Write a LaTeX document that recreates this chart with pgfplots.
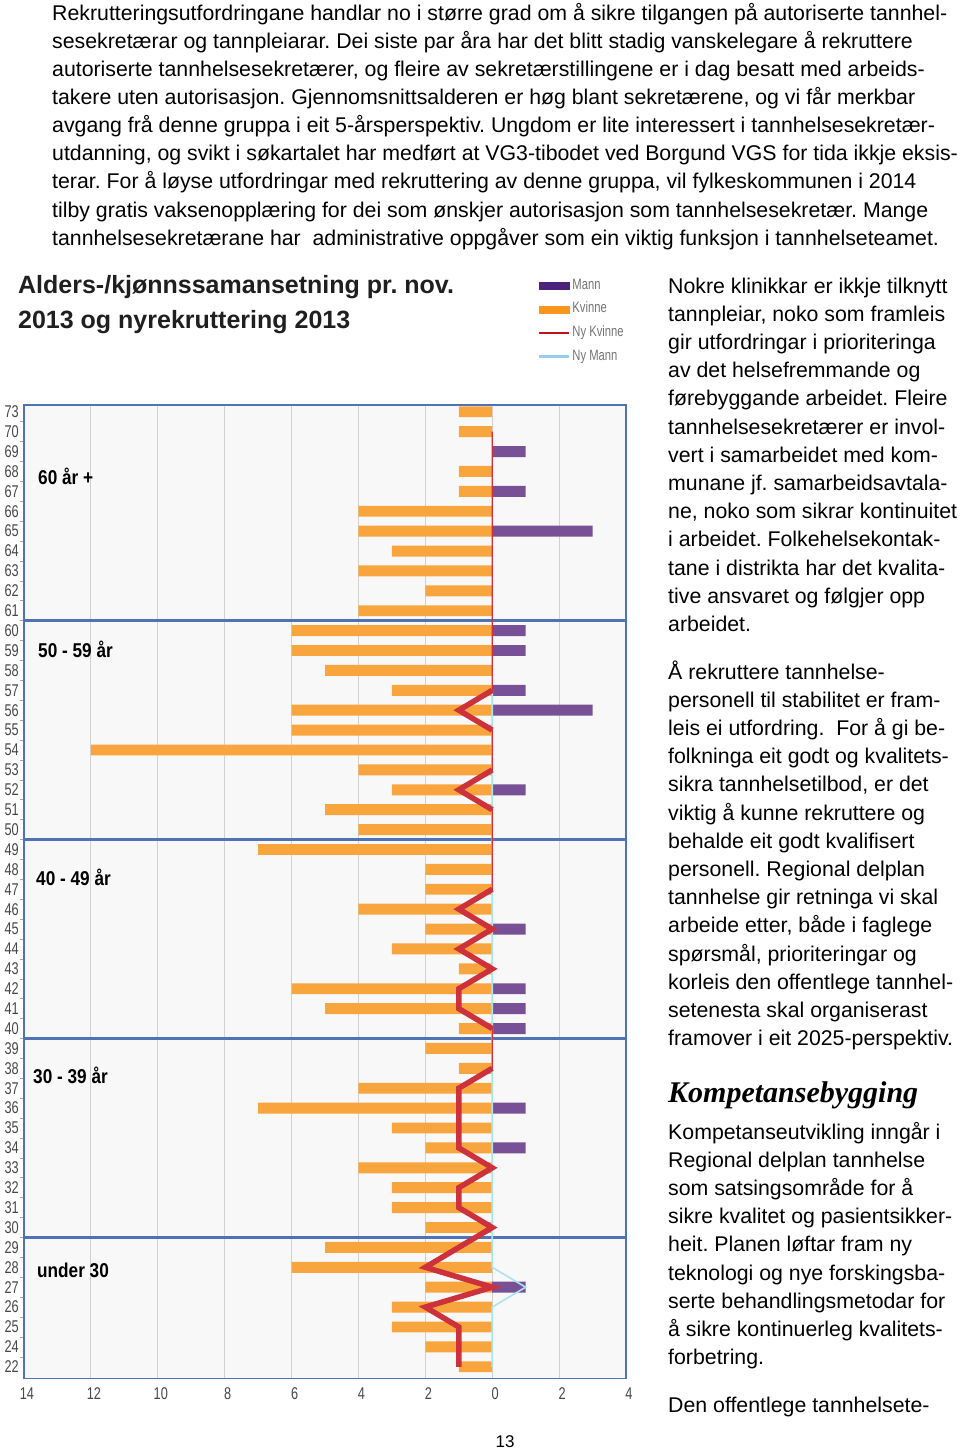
\documentclass[border=0pt]{standalone}
\usepackage{fontspec}
\setmainfont{Liberation Sans}
\newfontfamily\narrow[FakeStretch=0.75]{Liberation Sans}
\newfontfamily\grpfont[FakeStretch=0.86]{Liberation Sans}
\newfontfamily\headfont{Liberation Serif}
\usepackage{pgfplots}
\pgfplotsset{compat=1.18}
\definecolor{kv}{RGB}{249,165,62}
\definecolor{mann}{RGB}{120,80,150}
\definecolor{nyk}{RGB}{205,50,60}
\definecolor{nym}{RGB}{170,228,244}
\definecolor{framec}{RGB}{79,115,180}
\definecolor{plotbg}{RGB}{248,248,248}
\definecolor{legmann}{RGB}{75,35,125}
\definecolor{legkv}{RGB}{250,150,30}
\definecolor{legnyk}{RGB}{190,20,30}
\definecolor{legnym}{RGB}{150,205,240}
\frenchspacing
\newcommand\bodyfont{\fontsize{21.3}{28.2}\selectfont}
\newcommand{\tl}[2]{\node[anchor=base west,inner sep=0pt,font=\bodyfont] at (52pt,-#1pt) {#2};}
\newcommand{\rl}[2]{\node[anchor=base west,inner sep=0pt,font=\bodyfont] at (668pt,-#1pt) {#2};}
\begin{document}
\begin{tikzpicture}
\path[use as bounding box] (0,0) rectangle (960pt,-1451pt);
\begin{axis}[
  at={(24pt,-1378.3pt)}, anchor=south west,
  scale only axis, width=602pt, height=973.3pt,
  xmin=-14, xmax=4, ymin=-0.58, ymax=48.34,
  axis background/.style={fill=plotbg},
  axis line style={draw=framec, line width=1.6pt},
  xtick={-14,-12,...,4}, xticklabels={14,12,10,8,6,4,2,0,2,4},
  ytick={0,...,48},
  yticklabels={22,24,25,26,27,28,29,30,31,32,33,34,35,36,37,38,39,40,41,42,43,44,45,46,47,48,49,50,51,52,53,54,55,56,57,58,59,60,61,62,63,64,65,66,67,68,69,70,73},
  minor ytick={0.5,1.5,...,47.5},
  major tick length=0pt, minor tick length=4pt,
  tick align=outside, ytick pos=left, xtick pos=bottom,
  tick style={draw=black!35, line width=0.6pt},
  xmajorgrids, major grid style={draw=black!18, line width=0.9pt},
  extra y ticks={6.5,16.5,26.5,37.5,48.34},
  extra y tick labels={},
  extra y tick style={grid=major, major grid style={draw=framec, line width=2.6pt}},
  ticklabel style={font=\narrow\fontsize{17}{17}\selectfont, text=black!72},
  yticklabel style={inner sep=0pt, xshift=-5pt},
  xticklabel style={inner sep=0pt, yshift=-9pt, xshift=3pt},
  legend cell align=left,
  legend style={at={(axis description cs:0.8538,1.1294)}, anchor=north west,
    draw=none, fill=none, inner sep=0pt, outer sep=0pt,
    row sep=10.7pt, column sep=2pt,
    nodes={inner sep=0pt, text height=10pt, text depth=3pt,
      font=\narrow\fontsize{15}{15}\selectfont, text=black!55}},
]
% Kvinne
\addplot[xbar, bar width=0.55, fill=kv, draw=none, forget plot] coordinates {
(-1,48) (-1,47) (-1,45) (-1,44) (-4,43) (-4,42) (-3,41) (-4,40) (-2,39) (-4,38)
(-6,37) (-6,36) (-5,35) (-3,34) (-6,33) (-6,32) (-12,31) (-4,30) (-3,29) (-5,28) (-4,27)
(-7,26) (-2,25) (-2,24) (-4,23) (-2,22) (-3,21) (-1,20) (-6,19) (-5,18) (-1,17)
(-2,16) (-1,15) (-4,14) (-7,13) (-3,12) (-2,11) (-4,10) (-3,9) (-3,8) (-2,7)
(-5,6) (-6,5) (-2,4) (-3,3) (-3,2) (-2,1) (-1,0)};
% Mann
\addplot[xbar, bar width=0.55, fill=mann, draw=none, forget plot] coordinates {
(1,46) (1,44) (3,42) (1,37) (1,36) (1,34) (3,33) (1,29) (1,22) (1,19) (1,18) (1,17) (1,13) (1,11) (1,4)};
% Ny Mann
\addplot[color=nym, line width=1.6pt, forget plot] coordinates {
(0,34) (0,33) (0,32) (0,31) (0,30) (0,29) (0,28) (0,27) (0,26) (0,25) (0,24) (0,23) (0,22) (0,21) (0,20) (0,19) (0,18) (0,17) (0,16) (0,15) (0,14) (0,13) (0,12) (0,11) (0,10) (0,9) (0,8) (0,7) (0,6) (0,5) (1,4) (0,3) (0,2) (0,1) (0,0)};
% Ny Kvinne (thin)
\addplot[color=nyk, line width=1.4pt, forget plot] coordinates {
(0,47) (0,46) (0,45) (0,44) (0,43) (0,42) (0,41) (0,40) (0,39) (0,38) (0,37) (0,36) (0,35) (0,34) (-1,33) (0,32) (0,31) (0,30) (-1,29) (0,28) (0,27) (0,26) (0,25) (0,24) (-1,23) (0,22) (-1,21) (0,20) (-1,19) (-1,18) (0,17) (0,16) (0,15) (-1,14) (-1,13) (-1,12) (-1,11) (0,10) (-1,9) (-1,8) (0,7) (-1,6) (-2,5) (0,4) (-2,3) (-1,2) (-1,1) (-1,0)};
% Ny Kvinne (thick segments)
\addplot[color=nyk, line width=5.5pt, unbounded coords=jump, forget plot] coordinates {
(0,34) (-1,33) (0,32) (nan,31) (0,30) (-1,29) (0,28) (nan,27) (nan,26) (nan,25) (0,24) (-1,23) (0,22) (-1,21) (0,20) (-1,19) (-1,18) (0,17) (nan,16) (0,15) (-1,14) (-1,13) (-1,12) (-1,11) (0,10) (-1,9) (-1,8) (0,7) (-1,6) (-2,5) (0,4) (-2,3) (-1,2) (-1,1) (-1,0)};
\addlegendimage{legend image code/.code={\fill[legmann] (0pt,-3.5pt) rectangle (30pt,3.5pt);}}
\addlegendentry{Mann}
\addlegendimage{legend image code/.code={\fill[legkv] (0pt,-3.5pt) rectangle (30pt,3.5pt);}}
\addlegendentry{Kvinne}
\addlegendimage{legend image code/.code={\draw[legnyk, line width=2.4pt] (0pt,0pt) -- (30pt,0pt);}}
\addlegendentry{Ny Kvinne}
\addlegendimage{legend image code/.code={\draw[legnym, line width=2.4pt] (0pt,0pt) -- (30pt,0pt);}}
\addlegendentry{Ny Mann}
\end{axis}
% chart title
\node[anchor=base west,inner sep=0pt,font=\bfseries\fontsize{25}{25}\selectfont,text=black!88] at (18pt,-293pt) {Alders-/kjønnssamansetning pr. nov.};
\node[anchor=base west,inner sep=0pt,font=\bfseries\fontsize{25}{25}\selectfont,text=black!88] at (18pt,-328pt) {2013 og nyrekruttering 2013};
% group labels
\begin{scope}[every node/.style={anchor=base west,inner sep=0pt,font=\grpfont\bfseries\fontsize{20}{20}\selectfont}]
\node at (38pt,-484pt) {60 år +};
\node at (38pt,-657pt) {50 - 59 år};
\node at (36pt,-885pt) {40 - 49 år};
\node at (33pt,-1083pt) {30 - 39 år};
\node at (37pt,-1277pt) {under 30};
\end{scope}
% top paragraph
\tl{20}{Rekrutteringsutfordringane handlar no i større grad om å sikre tilgangen på autoriserte tannhel-}
\tl{48.2}{sesekretærar og tannpleiarar. Dei siste par åra har det blitt stadig vanskelegare å rekruttere}
\tl{76.3}{autoriserte tannhelsesekretærer, og fleire av sekretærstillingene er i dag besatt med arbeids-}
\tl{104.5}{takere uten autorisasjon. Gjennomsnittsalderen er høg blant sekretærene, og vi får merkbar}
\tl{132.6}{avgang frå denne gruppa i eit 5-årsperspektiv. Ungdom er lite interessert i tannhelsesekretær-}
\tl{160.8}{utdanning, og svikt i søkartalet har medført at VG3-tibodet ved Borgund VGS for tida ikkje eksis-}
\tl{188.9}{terar. For å løyse utfordringar med rekruttering av denne gruppa, vil fylkeskommunen i 2014}
\tl{217.1}{tilby gratis vaksenopplæring for dei som ønskjer autorisasjon som tannhelsesekretær. Mange}
\tl{245.2}{tannhelsesekretærane har\ \ administrative oppgåver som ein viktig funksjon i tannhelseteamet.}
% right column
\rl{293}{Nokre klinikkar er ikkje tilknytt}
\rl{321.2}{tannpleiar, noko som framleis}
\rl{349.4}{gir utfordringar i prioriteringa}
\rl{377.6}{av det helsefremmande og}
\rl{405.8}{førebyggande arbeidet. Fleire}
\rl{434}{tannhelsesekretærer er invol-}
\rl{462.2}{vert i samarbeidet med kom-}
\rl{490.4}{munane jf. samarbeidsavtala-}
\rl{518.6}{ne, noko som sikrar kontinuitet}
\rl{546.8}{i arbeidet. Folkehelsekontak-}
\rl{575}{tane i distrikta har det kvalita-}
\rl{603.2}{tive ansvaret og følgjer opp}
\rl{631.4}{arbeidet.}
\rl{679}{Å rekruttere tannhelse-}
\rl{707.2}{personell til stabilitet er fram-}
\rl{735.4}{leis ei utfordring.\ \ For å gi be-}
\rl{763.6}{folkninga eit godt og kvalitets-}
\rl{791.8}{sikra tannhelsetilbod, er det}
\rl{820}{viktig å kunne rekruttere og}
\rl{848.2}{behalde eit godt kvalifisert}
\rl{876.4}{personell. Regional delplan}
\rl{904.6}{tannhelse gir retninga vi skal}
\rl{932.8}{arbeide etter, både i faglege}
\rl{961}{spørsmål, prioriteringar og}
\rl{989.2}{korleis den offentlege tannhel-}
\rl{1017.4}{setenesta skal organiserast}
\rl{1045.6}{framover i eit 2025-perspektiv.}
\node[anchor=base west,inner sep=0pt,font=\headfont\bfseries\itshape\fontsize{30}{30}\selectfont] at (668pt,-1102pt) {Kompetansebygging};
\rl{1139}{Kompetanseutvikling inngår i}
\rl{1167.2}{Regional delplan tannhelse}
\rl{1195.4}{som satsingsområde for å}
\rl{1223.6}{sikre kvalitet og pasientsikker-}
\rl{1251.8}{heit. Planen løftar fram ny}
\rl{1280}{teknologi og nye forskingsba-}
\rl{1308.2}{serte behandlingsmetodar for}
\rl{1336.4}{å sikre kontinuerleg kvalitets-}
\rl{1364.6}{forbetring.}
\rl{1412}{Den offentlege tannhelsete-}
\node[anchor=base,inner sep=0pt,font=\fontsize{17}{17}\selectfont] at (505pt,-1447pt) {13};
\end{tikzpicture}
\end{document}
